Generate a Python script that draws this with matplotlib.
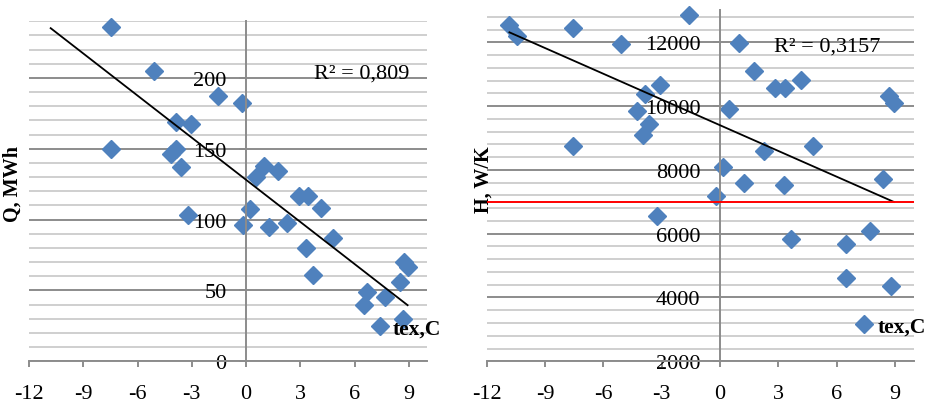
import numpy as np
import matplotlib
matplotlib.use("Agg")
import matplotlib.pyplot as plt
from matplotlib.ticker import MultipleLocator

plt.rcParams['font.family'] = ['Liberation Serif', 'DejaVu Serif']
plt.rcParams['axes.unicode_minus'] = False

# =================================================
# 1) Data (read from the picture)
# =================================================
# left: Q, MWh vs tex
tex_q = [-7.45, -7.45, -5.07, -4.17, -3.85, -3.85, -3.6, -3.2, -3.02, -1.55,
         -0.2, -0.15, 0.22, 0.54, 1.0, 1.27, 1.79, 2.29, 2.9, 3.3, 3.45, 3.71,
         4.13, 4.78, 6.53, 6.66, 7.68, 8.5, 8.69, 8.74, 8.93]
q_mwh = [235.9, 149.9, 205.2, 146.4, 168.8, 149.9, 137.0, 103.5, 167.6, 187.6,
         182.2, 96.3, 107.6, 130.0, 138.1, 94.6, 134.6, 97.5, 117.0, 80.0, 117.0, 60.9,
         108.3, 86.9, 39.8, 49.2, 45.6, 55.8, 29.9, 69.9, 66.8]
q_trend = (-9.91, 128.1)          # slope, intercept
q_trend_x = (-10.8, 8.93)
q_r2 = "R² = 0,809"

# right: H, W/K vs tex
tex_h = [-10.84, -10.45, -7.56, -7.56, -5.11, -4.25, -3.96, -3.87, -3.65, -3.25,
         -3.10, -1.62, -0.21, 0.17, 0.48, 0.96, 1.25, 1.73, 2.29, 2.84, 3.32, 3.37,
         3.64, 4.15, 4.78, 6.5, 6.5, 7.74, 8.4, 8.7, 8.78, 8.95]
h_wk = [12540, 12210, 12450, 8740, 11950, 9840, 9090, 10380, 9440, 6545,
        10670, 12860, 7170, 8100, 9910, 11970, 7580, 11110, 8580, 10570, 7530, 10560,
        5830, 10820, 8760, 5680, 4610, 6090, 7715, 10330, 4370, 10100]
h_trend = (-268.6, 9400)
h_trend_x = (-10.84, 8.95)
h_r2 = "R² = 0,3157"
h_limit = 7000

x_ticks = [-12, -9, -6, -3, 0, 3, 6, 9]

BLUE = "#4F81BD"
MAJOR = "#8c8c8c"
MINOR = "#cfcfcf"


def style(ax, ymin, ymax, major, minor):
    ax.set_xlim(-12, 10)
    ax.set_ylim(ymin, ymax)
    ax.set_xticks(x_ticks)
    ax.yaxis.set_major_locator(MultipleLocator(major))
    ax.yaxis.set_minor_locator(MultipleLocator(minor))
    ax.set_axisbelow(True)
    ax.grid(which='major', axis='y', color=MAJOR, lw=1.4)
    ax.grid(which='minor', axis='y', color=MINOR, lw=1.4)
    ax.grid(which='both', axis='x', visible=False)
    for s in ['top', 'right']:
        ax.spines[s].set_visible(False)
    ax.spines['left'].set_position(('data', 0))
    ax.spines['left'].set_color(MAJOR)
    ax.spines['bottom'].set_color(MAJOR)
    ax.spines['left'].set_linewidth(1.4)
    ax.spines['bottom'].set_linewidth(1.4)
    ax.tick_params(axis='x', which='major', direction='out', length=4.5, width=1.4,
                   color=MAJOR, pad=11.5, labelsize=16)
    ax.tick_params(axis='y', which='major', direction='out', length=5, width=1.4,
                   color=MAJOR, pad=9, labelsize=16)
    ax.tick_params(which='minor', length=0)
    ax.set_facecolor('none')


fig = plt.figure(figsize=(9.31, 4.02), dpi=100)

# =================================================
# 2) Left chart
# =================================================
ax1 = fig.add_axes([0.0311, 0.0988, 0.4275, 0.8458])
style(ax1, 0, 240, 50, 10)
pts1, = ax1.plot(tex_q, q_mwh, linestyle='none', marker='D', ms=9.5,
                 color=BLUE, zorder=2.5, clip_on=False)
xx = np.array(q_trend_x)
ax1.plot(xx, q_trend[0] * xx + q_trend[1], color='black', lw=1.3, zorder=3)
ax1.text(0.716, 0.848, q_r2, transform=ax1.transAxes, fontsize=16,
         ha='left', va='center')
ax1.set_ylabel("Q, MWh", fontsize=14.5, fontweight='bold')
ax1.yaxis.set_label_coords(-0.015, 0.524)
ax1.legend([pts1], ["tex,C"], loc='center left', bbox_to_anchor=(0.86, 0.095),
           frameon=False, handlelength=0.8, handletextpad=0.2, borderpad=0,
           borderaxespad=0, numpoints=1, prop={'weight': 'bold', 'size': 15.5})

# =================================================
# 3) Right chart
# =================================================
ax2 = fig.add_axes([0.523, 0.0988, 0.459, 0.8729])
style(ax2, 2000, 13000, 2000, 400)
pts2, = ax2.plot(tex_h, h_wk, linestyle='none', marker='D', ms=9.5,
                 color=BLUE, zorder=2.5, clip_on=False)
xx = np.array(h_trend_x)
ax2.plot(xx, h_trend[0] * xx + h_trend[1], color='black', lw=1.3, zorder=3)
ax2.axhline(h_limit, color='red', lw=1.4, zorder=3)
ax2.text(0.671, 0.899, h_r2, transform=ax2.transAxes, fontsize=16,
         ha='left', va='center')
ax2.set_ylabel("H, W/K", fontsize=14.5, fontweight='bold')
ax2.yaxis.set_label_coords(0.016, 0.521)
ax2.legend([pts2], ["tex,C"], loc='center left', bbox_to_anchor=(0.863, 0.1),
           frameon=False, handlelength=0.8, handletextpad=0.2, borderpad=0,
           borderaxespad=0, numpoints=1, prop={'weight': 'bold', 'size': 15.5})

fig.savefig("out.png", dpi=100)
